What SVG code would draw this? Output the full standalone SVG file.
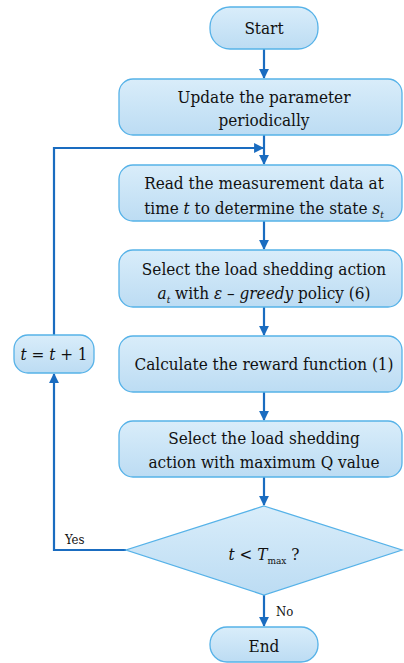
<svg xmlns="http://www.w3.org/2000/svg" width="404" height="663" viewBox="0 0 404 663">
<style>
.box{fill:url(#g);stroke:#56b2e8;stroke-width:1.3}
.t{font-family:'DejaVu Serif Condensed','DejaVu Serif',serif;font-size:17px;fill:#111;text-anchor:middle}
.s{font-family:'DejaVu Serif Condensed','DejaVu Serif',serif;font-size:13px;fill:#111}
.c{fill:none;stroke:#1a6cc0;stroke-width:2.2}
</style>
<defs>
<linearGradient id="g" x1="0" y1="0" x2="0" y2="1">
<stop offset="0" stop-color="#d9edfa"/>
<stop offset="1" stop-color="#bcdcf3"/>
</linearGradient>
<marker id="a" viewBox="0 0 10 10" refX="9" refY="5" markerWidth="4.5" markerHeight="4.5" orient="auto" markerUnits="strokeWidth">
<path d="M0,0 L10,5 L0,10 z" fill="#1a6cc0"/>
</marker>
</defs>
<g id="connectors">
<line class="c" x1="264" y1="49" x2="264" y2="78" marker-end="url(#a)"/>
<line class="c" x1="264" y1="135" x2="264" y2="164" marker-end="url(#a)"/>
<line class="c" x1="264" y1="221" x2="264" y2="249" marker-end="url(#a)"/>
<line class="c" x1="264" y1="307" x2="264" y2="335" marker-end="url(#a)"/>
<line class="c" x1="264" y1="392" x2="264" y2="420" marker-end="url(#a)"/>
<line class="c" x1="264" y1="477" x2="264" y2="505" marker-end="url(#a)"/>
<line class="c" x1="264" y1="595" x2="264" y2="626" marker-end="url(#a)"/>
<polyline class="c" points="126,550 54,550 54,374" marker-end="url(#a)"/>
<polyline class="c" points="54,335 54,148 263,148" marker-end="url(#a)"/>
</g>
<g id="start">
<rect class="box" x="210" y="7" width="108" height="42" rx="20"/>
<text class="t" x="264" y="34">Start</text>
</g>
<g id="update">
<rect class="box" x="119" y="79" width="283" height="56" rx="14"/>
<text class="t" x="264" y="103">Update the parameter</text>
<text class="t" x="264" y="126">periodically</text>
</g>
<g id="read">
<rect class="box" x="119" y="165" width="283" height="56" rx="14"/>
<text class="t" x="264" y="189">Read the measurement data at</text>
<text class="t" x="264" y="214">time <tspan font-style="italic">t</tspan> to determine the  state <tspan font-style="italic">s</tspan><tspan font-style="italic" font-size="10" dy="4">t</tspan></text>
</g>
<g id="select">
<rect class="box" x="119" y="250" width="283" height="57" rx="14"/>
<text class="t" x="264" y="275">Select the load shedding action</text>
<text class="t" x="264" y="299"><tspan font-style="italic">a</tspan><tspan font-style="italic" font-size="10" dy="4">t</tspan><tspan dy="-4"> with </tspan><tspan font-style="italic">ε</tspan> – <tspan font-style="italic">greedy</tspan> policy (6)</text>
</g>
<g id="calculate">
<rect class="box" x="119" y="336" width="283" height="56" rx="14"/>
<text class="t" x="264" y="370">Calculate the reward function (1)</text>
</g>
<g id="selectq">
<rect class="box" x="119" y="421" width="283" height="56" rx="14"/>
<text class="t" x="264" y="444">Select the load shedding</text>
<text class="t" x="264" y="468">action with maximum Q value</text>
</g>
<g id="decision">
<polygon class="box" points="264,506 402,550 264,595 126,550"/>
<text class="t" x="264" y="560"><tspan font-style="italic">t</tspan> &lt; <tspan font-style="italic">T</tspan><tspan font-size="10" dy="4">max</tspan><tspan dy="-4"> ?</tspan></text>
<text class="s" x="65" y="544">Yes</text>
<text class="s" x="276" y="616">No</text>
</g>
<g id="increment">
<rect class="box" x="14" y="335" width="80" height="38" rx="14"/>
<text class="t" x="54" y="360"><tspan font-style="italic">t</tspan> = <tspan font-style="italic">t</tspan> + 1</text>
</g>
<g id="end">
<rect class="box" x="210" y="627" width="108" height="35" rx="17"/>
<text class="t" x="264" y="652">End</text>
</g>
</svg>
